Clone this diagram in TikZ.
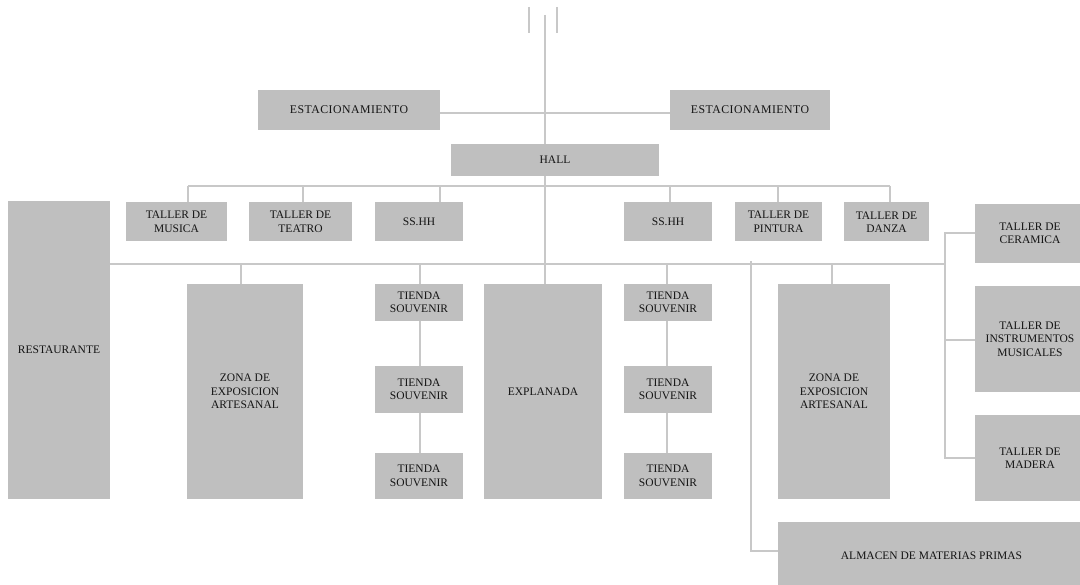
\documentclass[tikz,border=0pt]{standalone}
\usepackage{fontspec}
\setmainfont{Liberation Serif}
\definecolor{boxgray}{HTML}{BFBFBF}
\definecolor{linegray}{HTML}{C8C8C8}
\definecolor{ink}{HTML}{141414}
\begin{document}
\begin{tikzpicture}[x=1pt,y=-1pt,
  room/.style={fill=boxgray, draw=none, inner sep=0pt, align=center, text=ink,
    font=\fontsize{11.5}{13.5}\selectfont},
  wide/.style={font=\fontsize{11.8}{13.5}\selectfont\addfontfeature{LetterSpace=4}},
  link/.style={draw=linegray, line width=2.4pt}
]
\path[use as bounding box] (0,0) rectangle (1080,585);
\clip (0,0) rectangle (1080,585);

% access and parking
\node[room, wide, minimum width=182pt, minimum height=40pt] (estL) at (349,110) {ESTACIONAMIENTO};
\node[room, wide, minimum width=160pt, minimum height=40pt] (estR) at (750,110) {ESTACIONAMIENTO};
\node[room, minimum width=208pt, minimum height=32pt] (hall) at (555,160) {HALL};

% workshops along the upper bar
\node[room, minimum width=101pt, minimum height=39pt] (musica) at (176.5,222) {TALLER DE\\MUSICA};
\node[room, minimum width=103pt, minimum height=39pt] (teatro) at (300.5,222) {TALLER DE\\TEATRO};
\node[room, minimum width=88pt, minimum height=39pt] (sshhL) at (419,222) {SS.HH};
\node[room, minimum width=88pt, minimum height=39pt] (sshhR) at (668,222) {SS.HH};
\node[room, minimum width=87pt, minimum height=39pt] (pintura) at (778.5,222) {TALLER DE\\PINTURA};
\node[room, minimum width=85pt, minimum height=39pt] (danza) at (886.5,222) {TALLER DE\\DANZA};

% lower level
\node[room, minimum width=102pt, minimum height=298pt] (rest) at (59,350) {RESTAURANTE};
\node[room, minimum width=116pt, minimum height=215pt] (zonaL) at (245,391.5) {ZONA DE\\EXPOSICION\\ARTESANAL};
\node[room, minimum width=88pt, minimum height=37pt] (tl1) at (419,302.5) {TIENDA\\SOUVENIR};
\node[room, minimum width=88pt, minimum height=47pt] (tl2) at (419,389.5) {TIENDA\\SOUVENIR};
\node[room, minimum width=88pt, minimum height=46pt] (tl3) at (419,476) {TIENDA\\SOUVENIR};
\node[room, minimum width=118pt, minimum height=215pt] (expl) at (543,391.5) {EXPLANADA};
\node[room, minimum width=88pt, minimum height=37pt] (tr1) at (668,302.5) {TIENDA\\SOUVENIR};
\node[room, minimum width=88pt, minimum height=47pt] (tr2) at (668,389.5) {TIENDA\\SOUVENIR};
\node[room, minimum width=88pt, minimum height=46pt] (tr3) at (668,476) {TIENDA\\SOUVENIR};
\node[room, minimum width=112pt, minimum height=215pt] (zonaR) at (834,391.5) {ZONA DE\\EXPOSICION\\ARTESANAL};

% production wing
\node[room, minimum width=110pt, minimum height=59pt] (cer) at (1030,233.5) {TALLER DE\\CERAMICA};
\node[room, minimum width=110pt, minimum height=106pt] (inst) at (1030,339) {TALLER DE\\INSTRUMENTOS\\MUSICALES};
\node[room, minimum width=110pt, minimum height=86pt] (mad) at (1030,458) {TALLER DE\\MADERA};
\node[room, minimum width=307pt, minimum height=68pt] (alm) at (931.5,556) {ALMACEN DE MATERIAS PRIMAS};

% entrance marks
\coordinate (antL1) at (529,7);  \coordinate (antL2) at (529,33);
\coordinate (antR1) at (557,7);  \coordinate (antR2) at (557,33);
\coordinate (entry) at (545,15);
\draw[link] (antL1) -- (antL2);
\draw[link] (antR1) -- (antR2);

% main axis
\draw[link] (entry) -- (entry |- hall.north);
\draw[link] ([yshift=-3pt]estL.east) -- ([yshift=-3pt]estR.west);
\draw[link] (entry |- hall.south) -- (entry |- expl.north);

% upper bar
\coordinate (tb1) at (188,186);
\coordinate (tb2) at (303,186);
\coordinate (tb3) at (440,186);
\coordinate (tb4) at (670,186);
\coordinate (tb5) at (778,186);
\coordinate (tb6) at (890,186);
\draw[link] (tb1) -- (tb6);
\draw[link] (tb1) -- (tb1 |- musica.north);
\draw[link] (tb2) -- (tb2 |- teatro.north);
\draw[link] (tb3) -- (tb3 |- sshhL.north);
\draw[link] (tb4) -- (tb4 |- sshhR.north);
\draw[link] (tb5) -- (tb5 |- pintura.north);
\draw[link] (tb6) -- (tb6 |- danza.north);

% lower bar
\coordinate (lbEnd) at (945,264);
\coordinate (lb1) at (241,264);
\coordinate (lb2) at (420,264);
\coordinate (lb3) at (667,264);
\coordinate (lb4) at (832,264);
\draw[link] (rest.east |- lbEnd) -- (lbEnd);
\draw[link] (lb1) -- (lb1 |- zonaL.north);
\draw[link] (lb2) -- (lb2 |- tl1.north);
\draw[link] (lb3) -- (lb3 |- tr1.north);
\draw[link] (lb4) -- (lb4 |- zonaR.north);

% souvenir shop chains
\draw[link] (lb2 |- tl1.south) -- (lb2 |- tl2.north);
\draw[link] (lb2 |- tl2.south) -- (lb2 |- tl3.north);
\draw[link] (lb3 |- tr1.south) -- (lb3 |- tr2.north);
\draw[link] (lb3 |- tr2.south) -- (lb3 |- tr3.north);

% production wing spine
\coordinate (rcTop) at (945,233);
\coordinate (rcMid) at (945,340);
\coordinate (rcBot) at (945,458);
\draw[link] (cer.west |- rcTop) -- (rcTop) -- (rcBot) -- (mad.west |- rcBot);
\draw[link] (rcMid) -- (inst.west |- rcMid);

% storage link
\coordinate (almTop) at (751,261);
\coordinate (almCorner) at (751,551);
\draw[link] (almTop) -- (almCorner) -- (alm.west |- almCorner);
\end{tikzpicture}
\end{document}
